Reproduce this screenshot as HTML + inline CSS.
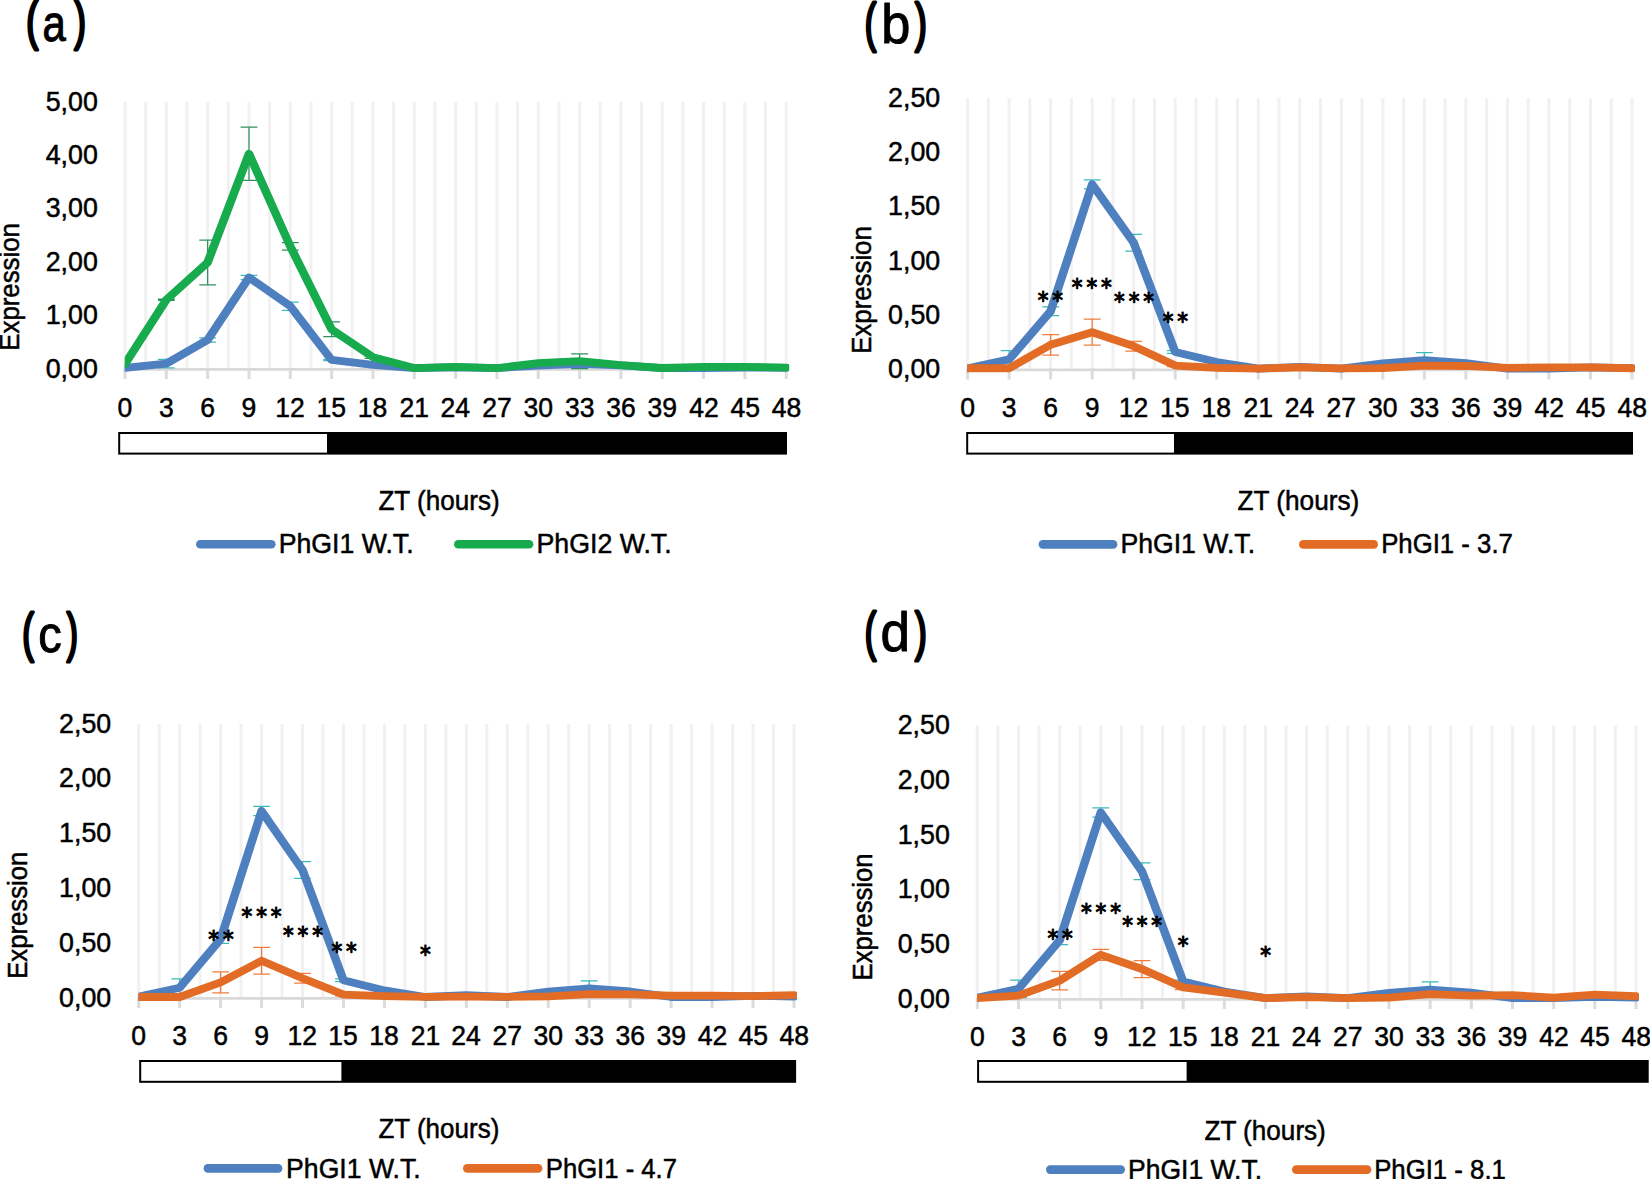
<!DOCTYPE html>
<html lang="en"><head><meta charset="utf-8"><title>PhGI expression</title>
<style>
html,body{margin:0;padding:0;background:#fff;}
body{width:1650px;height:1179px;overflow:hidden;}
svg{display:block;}
text{font-family:"Liberation Sans", sans-serif;fill:#000;}
.t{font-size:27.5px;stroke:#000;stroke-width:0.5px;}
.w{font-size:27px;stroke:#000;stroke-width:0.5px;}
.pl{font-size:54.5px;stroke:#000;stroke-linejoin:round;}
.st{font-family:"DejaVu Sans",sans-serif;font-size:23.3px;letter-spacing:4.21957px;stroke:#000;stroke-width:1.1px;stroke-linejoin:round;}
</style></head>
<body>
<svg width="1650" height="1179" viewBox="0 0 1650 1179">
<rect x="0" y="0" width="1650" height="1179" fill="#fff"/>
<g id="panel-a">
<clipPath id="clip-a"><rect x="124.7" y="92" width="664.4" height="296.1"/></clipPath>
<text class="pl"><tspan x="26.14" y="39.41" font-size="52.88" stroke-width="3.2" textLength="11.97" lengthAdjust="spacingAndGlyphs">(</tspan><tspan x="42.52" y="41.1" font-size="52.3" stroke-width="1.0" textLength="23.32" lengthAdjust="spacingAndGlyphs">a</tspan><tspan x="74.2" y="39.41" font-size="52.88" stroke-width="3.2" textLength="11.66" lengthAdjust="spacingAndGlyphs">)</tspan></text>
<path d="M125 102V369.1M145.66 102V369.1M166.32 102V369.1M186.99 102V369.1M207.65 102V369.1M228.31 102V369.1M248.98 102V369.1M269.64 102V369.1M290.3 102V369.1M310.96 102V369.1M331.62 102V369.1M352.29 102V369.1M372.95 102V369.1M393.61 102V369.1M414.28 102V369.1M434.94 102V369.1M455.6 102V369.1M476.26 102V369.1M496.93 102V369.1M517.59 102V369.1M538.25 102V369.1M558.91 102V369.1M579.58 102V369.1M600.24 102V369.1M620.9 102V369.1M641.56 102V369.1M662.23 102V369.1M682.89 102V369.1M703.55 102V369.1M724.21 102V369.1M744.88 102V369.1M765.54 102V369.1M786.2 102V369.1" stroke="#F1F1F1" stroke-width="3" fill="none"/>
<path d="M125 368.1V379M166.32 368.1V379M207.65 368.1V379M248.98 368.1V379M290.3 368.1V379M331.62 368.1V379M372.95 368.1V379M414.28 368.1V379M455.6 368.1V379M496.93 368.1V379M538.25 368.1V379M579.58 368.1V379M620.9 368.1V379M662.23 368.1V379M703.55 368.1V379M744.88 368.1V379M786.2 368.1V379" stroke="#DCDCDC" stroke-width="3" fill="none"/>
<path d="M123.7 369.45H787.5" stroke="#D9D9D9" stroke-width="2.7" fill="none"/>
<text class="t" transform="translate(45.71 377.6) scale(0.974 1)">0,00</text>
<text class="t" transform="translate(45.71 324.2) scale(0.974 1)">1,00</text>
<text class="t" transform="translate(45.71 270.8) scale(0.974 1)">2,00</text>
<text class="t" transform="translate(45.71 217.4) scale(0.974 1)">3,00</text>
<text class="t" transform="translate(45.71 164) scale(0.974 1)">4,00</text>
<text class="t" transform="translate(45.71 110.6) scale(0.974 1)">5,00</text>
<text class="w" transform="translate(19.2 350.73) rotate(-90) scale(0.956 1)">Expression</text>
<text class="t" transform="translate(117.6 416.5) scale(0.965 1)">0</text>
<text class="t" transform="translate(159.03 416.5) scale(0.965 1)">3</text>
<text class="t" transform="translate(200.19 416.5) scale(0.965 1)">6</text>
<text class="t" transform="translate(241.58 416.5) scale(0.965 1)">9</text>
<text class="t" transform="translate(275.24 416.5) scale(0.965 1)">12</text>
<text class="t" transform="translate(316.43 416.5) scale(0.965 1)">15</text>
<text class="t" transform="translate(357.79 416.5) scale(0.965 1)">18</text>
<text class="t" transform="translate(399.51 416.5) scale(0.965 1)">21</text>
<text class="t" transform="translate(440.57 416.5) scale(0.965 1)">24</text>
<text class="t" transform="translate(482.2 416.5) scale(0.965 1)">27</text>
<text class="t" transform="translate(523.52 416.5) scale(0.965 1)">30</text>
<text class="t" transform="translate(564.91 416.5) scale(0.965 1)">33</text>
<text class="t" transform="translate(606.24 416.5) scale(0.965 1)">36</text>
<text class="t" transform="translate(647.6 416.5) scale(0.965 1)">39</text>
<text class="t" transform="translate(689.19 416.5) scale(0.965 1)">42</text>
<text class="t" transform="translate(730.38 416.5) scale(0.965 1)">45</text>
<text class="t" transform="translate(771.74 416.5) scale(0.965 1)">48</text>
<path d="M166.32 359.32V367.83M157.92 359.32H174.72M157.92 367.83H174.72M207.65 337.76V342.02M199.25 337.76H216.05M199.25 342.02H216.05M248.98 275.25V279.72M240.58 275.25H257.38M240.58 279.72H257.38M290.3 302.11V310.3M281.9 302.11H298.7M281.9 310.3H298.7M331.62 359.32V360.6M323.23 359.32H340.02M323.23 360.6H340.02M372.95 364.35V365.42M364.55 364.35H381.35M364.55 365.42H381.35M538.25 365.1V365.96M529.85 365.1H546.65M529.85 365.96H546.65M579.58 360.2V367.65M571.18 360.2H587.98M571.18 367.65H587.98" stroke="#3BBABA" stroke-width="1.25" fill="none"/>
<path d="M166.32 299.21V300.48M157.92 299.21H174.72M157.92 300.48H174.72M207.65 240.05V284.76M199.25 240.05H216.05M199.25 284.76H216.05M248.98 127.22V180.44M240.58 127.22H257.38M240.58 180.44H257.38M290.3 242.63V250.08M281.9 242.63H298.7M281.9 250.08H298.7M331.62 321.92V336.61M323.23 321.92H340.02M323.23 336.61H340.02M372.95 356.12V358.25M364.55 356.12H381.35M364.55 358.25H381.35M579.58 353.79V368.59M571.18 353.79H587.98M571.18 368.59H587.98" stroke="#30905E" stroke-width="1.25" fill="none"/>
<g clip-path="url(#clip-a)"><polyline transform="scale(1.09 1)" points="114.68,367.94 152.59,363.58 190.5,339.89 228.42,277.48 266.33,306.21 304.24,359.96 342.16,364.89 380.07,368.1 417.98,367.24 455.89,368.1 493.81,365.53 531.72,363.93 569.63,365.42 607.55,368.1 645.46,368.1 683.37,367.51 721.28,367.89" stroke="#4E7FBE" stroke-width="7.8" fill="none" stroke-linejoin="round" stroke-linecap="round"/></g>
<g clip-path="url(#clip-a)"><polyline transform="scale(1.09 1)" points="114.68,364.03 152.59,299.85 190.5,262.41 228.42,153.83 266.33,246.36 304.24,329.27 342.16,357.18 380.07,368.1 417.98,366.97 455.89,368.1 493.81,363.23 531.72,361.19 569.63,365.1 607.55,367.99 645.46,366.97 683.37,366.97 721.28,367.56" stroke="#17AB4E" stroke-width="7.8" fill="none" stroke-linejoin="round" stroke-linecap="round"/></g>
<rect x="118.2" y="432" width="668.8" height="22.6" fill="#000"/>
<rect x="120.2" y="434" width="206.8" height="18.6" fill="#fff"/>
<text class="w" transform="translate(378.45 510.2) scale(0.966 1)">ZT (hours)</text>
<path d="M200.3 544.3H271.3" stroke="#4E7FBE" stroke-width="8.6" stroke-linecap="round" fill="none"/>
<text class="w" transform="translate(278.7 553.1) scale(0.9887 1)">PhGI1 W.T.</text>
<path d="M458.3 544.3H529.1" stroke="#17AB4E" stroke-width="8.6" stroke-linecap="round" fill="none"/>
<text class="w" transform="translate(536.49 553.1) scale(0.9902 1)">PhGI2 W.T.</text>
</g>
<g id="panel-b">
<clipPath id="clip-b"><rect x="967.3" y="88" width="667.6" height="300.6"/></clipPath>
<text class="pl"><tspan x="864.69" y="41.31" font-size="52.88" stroke-width="3.2" textLength="11.46" lengthAdjust="spacingAndGlyphs">(</tspan><tspan x="881.17" y="43" font-size="55" stroke-width="1.0" textLength="29.1" lengthAdjust="spacingAndGlyphs">b</tspan><tspan x="914.9" y="41.31" font-size="52.88" stroke-width="3.2" textLength="11.76" lengthAdjust="spacingAndGlyphs">)</tspan></text>
<path d="M967.6 98V369.6M988.36 98V369.6M1009.12 98V369.6M1029.89 98V369.6M1050.65 98V369.6M1071.41 98V369.6M1092.17 98V369.6M1112.94 98V369.6M1133.7 98V369.6M1154.46 98V369.6M1175.22 98V369.6M1195.99 98V369.6M1216.75 98V369.6M1237.51 98V369.6M1258.28 98V369.6M1279.04 98V369.6M1299.8 98V369.6M1320.56 98V369.6M1341.33 98V369.6M1362.09 98V369.6M1382.85 98V369.6M1403.61 98V369.6M1424.38 98V369.6M1445.14 98V369.6M1465.9 98V369.6M1486.66 98V369.6M1507.43 98V369.6M1528.19 98V369.6M1548.95 98V369.6M1569.71 98V369.6M1590.47 98V369.6M1611.24 98V369.6M1632 98V369.6" stroke="#F1F1F1" stroke-width="3" fill="none"/>
<path d="M967.6 368.6V379.5M1009.12 368.6V379.5M1050.65 368.6V379.5M1092.17 368.6V379.5M1133.7 368.6V379.5M1175.22 368.6V379.5M1216.75 368.6V379.5M1258.28 368.6V379.5M1299.8 368.6V379.5M1341.33 368.6V379.5M1382.85 368.6V379.5M1424.38 368.6V379.5M1465.9 368.6V379.5M1507.43 368.6V379.5M1548.95 368.6V379.5M1590.47 368.6V379.5M1632 368.6V379.5" stroke="#DCDCDC" stroke-width="3" fill="none"/>
<path d="M966.3 369.95H1633.3" stroke="#D9D9D9" stroke-width="2.7" fill="none"/>
<text class="t" transform="translate(888.11 378.1) scale(0.974 1)">0,00</text>
<text class="t" transform="translate(888.11 323.8) scale(0.974 1)">0,50</text>
<text class="t" transform="translate(888.11 269.5) scale(0.974 1)">1,00</text>
<text class="t" transform="translate(888.11 215.2) scale(0.974 1)">1,50</text>
<text class="t" transform="translate(888.11 160.9) scale(0.974 1)">2,00</text>
<text class="t" transform="translate(888.11 106.6) scale(0.974 1)">2,50</text>
<text class="w" transform="translate(871.2 353.83) rotate(-90) scale(0.956 1)">Expression</text>
<text class="t" transform="translate(960.2 416.7) scale(0.965 1)">0</text>
<text class="t" transform="translate(1001.83 416.7) scale(0.965 1)">3</text>
<text class="t" transform="translate(1043.19 416.7) scale(0.965 1)">6</text>
<text class="t" transform="translate(1084.78 416.7) scale(0.965 1)">9</text>
<text class="t" transform="translate(1118.64 416.7) scale(0.965 1)">12</text>
<text class="t" transform="translate(1160.03 416.7) scale(0.965 1)">15</text>
<text class="t" transform="translate(1201.59 416.7) scale(0.965 1)">18</text>
<text class="t" transform="translate(1243.51 416.7) scale(0.965 1)">21</text>
<text class="t" transform="translate(1284.77 416.7) scale(0.965 1)">24</text>
<text class="t" transform="translate(1326.6 416.7) scale(0.965 1)">27</text>
<text class="t" transform="translate(1368.12 416.7) scale(0.965 1)">30</text>
<text class="t" transform="translate(1409.71 416.7) scale(0.965 1)">33</text>
<text class="t" transform="translate(1451.24 416.7) scale(0.965 1)">36</text>
<text class="t" transform="translate(1492.8 416.7) scale(0.965 1)">39</text>
<text class="t" transform="translate(1534.59 416.7) scale(0.965 1)">42</text>
<text class="t" transform="translate(1575.98 416.7) scale(0.965 1)">45</text>
<text class="t" transform="translate(1617.54 416.7) scale(0.965 1)">48</text>
<path d="M1009.12 350.74V368.06M1000.73 350.74H1017.52M1000.73 368.06H1017.52M1050.65 306.9V315.56M1042.25 306.9H1059.05M1042.25 315.56H1059.05M1092.17 179.75V188.85M1083.77 179.75H1100.58M1083.77 188.85H1100.58M1133.7 234.38V251.05M1125.3 234.38H1142.1M1125.3 251.05H1142.1M1175.22 350.74V353.34M1166.82 350.74H1183.62M1166.82 353.34H1183.62M1216.75 360.98V363.14M1208.35 360.98H1225.15M1208.35 363.14H1225.15M1382.85 362.51V364.24M1374.45 362.51H1391.25M1374.45 364.24H1391.25M1424.38 352.54V367.69M1415.97 352.54H1432.78M1415.97 367.69H1432.78" stroke="#3BBABA" stroke-width="1.25" fill="none"/>
<path d="M1050.65 334.5V355.07M1042.25 334.5H1059.05M1042.25 355.07H1059.05M1092.17 319.24V345.22M1083.77 319.24H1100.58M1083.77 345.22H1100.58M1133.7 341.32V351.07M1125.3 341.32H1142.1M1125.3 351.07H1142.1M1175.22 364.47V366.63M1166.82 364.47H1183.62M1166.82 366.63H1183.62M1424.38 364.47V366.63M1415.97 364.47H1432.78M1415.97 366.63H1432.78" stroke="#F07D3D" stroke-width="1.25" fill="none"/>
<g clip-path="url(#clip-b)"><polyline transform="scale(1.09 1)" points="887.71,368.26 925.8,359.4 963.9,311.23 1002,184.3 1040.09,242.72 1078.19,352.04 1116.28,362.06 1154.38,368.6 1192.48,366.86 1230.57,368.6 1268.67,363.37 1306.77,360.11 1344.86,363.16 1382.96,368.6 1421.06,368.6 1459.15,367.41 1497.25,368.17" stroke="#4E7FBE" stroke-width="7.8" fill="none" stroke-linejoin="round" stroke-linecap="round"/></g>
<g clip-path="url(#clip-b)"><polyline transform="scale(1.09 1)" points="887.71,368.26 925.8,368.26 963.9,344.79 1002,332.23 1040.09,346.19 1078.19,365.55 1116.28,367.94 1154.38,368.59 1192.48,367.4 1230.57,368.37 1268.67,368.05 1306.77,365.55 1344.86,365.98 1382.96,367.94 1421.06,367.29 1459.15,367.29 1497.25,368.26" stroke="#E26C25" stroke-width="7.8" fill="none" stroke-linejoin="round" stroke-linecap="round"/></g>
<text class="st" transform="translate(1037.76 308.3) scale(0.92 1)">**</text>
<text class="st" transform="translate(1071.86 294.9) scale(0.92 1)">***</text>
<text class="st" transform="translate(1114.06 309.3) scale(0.92 1)">***</text>
<text class="st" transform="translate(1162.76 328.9) scale(0.92 1)">**</text>
<rect x="966.2" y="432" width="666.8" height="22.6" fill="#000"/>
<rect x="968.2" y="434" width="205.8" height="18.6" fill="#fff"/>
<text class="w" transform="translate(1237.45 510) scale(0.9709 1)">ZT (hours)</text>
<path d="M1042.9 544.4H1113.1" stroke="#4E7FBE" stroke-width="8.6" stroke-linecap="round" fill="none"/>
<text class="w" transform="translate(1120.5 552.8) scale(0.9856 1)">PhGI1 W.T.</text>
<path d="M1303.3 544.4H1373.7" stroke="#E26C25" stroke-width="8.6" stroke-linecap="round" fill="none"/>
<text class="w" transform="translate(1381.17 552.8) scale(0.9549 1)">PhGI1 - 3.7</text>
</g>
<g id="panel-c">
<clipPath id="clip-c"><rect x="138.4" y="714" width="658.5" height="303"/></clipPath>
<text class="pl"><tspan x="22.27" y="651.21" font-size="52.88" stroke-width="3.2" textLength="11.66" lengthAdjust="spacingAndGlyphs">(</tspan><tspan x="38.36" y="652.4" font-size="51.8" stroke-width="1.0" textLength="23.48" lengthAdjust="spacingAndGlyphs">c</tspan><tspan x="66.66" y="651.21" font-size="52.88" stroke-width="3.2" textLength="11.15" lengthAdjust="spacingAndGlyphs">)</tspan></text>
<path d="M138.7 724V998M159.18 724V998M179.66 724V998M200.13 724V998M220.61 724V998M241.09 724V998M261.57 724V998M282.05 724V998M302.52 724V998M323 724V998M343.48 724V998M363.96 724V998M384.44 724V998M404.92 724V998M425.39 724V998M445.87 724V998M466.35 724V998M486.83 724V998M507.31 724V998M527.78 724V998M548.26 724V998M568.74 724V998M589.22 724V998M609.7 724V998M630.17 724V998M650.65 724V998M671.13 724V998M691.61 724V998M712.09 724V998M732.57 724V998M753.04 724V998M773.52 724V998M794 724V998" stroke="#F1F1F1" stroke-width="3" fill="none"/>
<path d="M138.7 997V1007.9M179.66 997V1007.9M220.61 997V1007.9M261.57 997V1007.9M302.52 997V1007.9M343.48 997V1007.9M384.44 997V1007.9M425.39 997V1007.9M466.35 997V1007.9M507.31 997V1007.9M548.26 997V1007.9M589.22 997V1007.9M630.17 997V1007.9M671.13 997V1007.9M712.09 997V1007.9M753.04 997V1007.9M794 997V1007.9" stroke="#DCDCDC" stroke-width="3" fill="none"/>
<path d="M137.4 998.35H795.3" stroke="#D9D9D9" stroke-width="2.7" fill="none"/>
<text class="t" transform="translate(59.11 1006.5) scale(0.974 1)">0,00</text>
<text class="t" transform="translate(59.11 951.72) scale(0.974 1)">0,50</text>
<text class="t" transform="translate(59.11 896.94) scale(0.974 1)">1,00</text>
<text class="t" transform="translate(59.11 842.16) scale(0.974 1)">1,50</text>
<text class="t" transform="translate(59.11 787.38) scale(0.974 1)">2,00</text>
<text class="t" transform="translate(59.11 732.6) scale(0.974 1)">2,50</text>
<text class="w" transform="translate(27.4 978.82) rotate(-90) scale(0.9522 1)">Expression</text>
<text class="t" transform="translate(131.3 1045.1) scale(0.965 1)">0</text>
<text class="t" transform="translate(172.36 1045.1) scale(0.965 1)">3</text>
<text class="t" transform="translate(213.15 1045.1) scale(0.965 1)">6</text>
<text class="t" transform="translate(254.17 1045.1) scale(0.965 1)">9</text>
<text class="t" transform="translate(287.46 1045.1) scale(0.965 1)">12</text>
<text class="t" transform="translate(328.29 1045.1) scale(0.965 1)">15</text>
<text class="t" transform="translate(369.28 1045.1) scale(0.965 1)">18</text>
<text class="t" transform="translate(410.63 1045.1) scale(0.965 1)">21</text>
<text class="t" transform="translate(451.32 1045.1) scale(0.965 1)">24</text>
<text class="t" transform="translate(492.58 1045.1) scale(0.965 1)">27</text>
<text class="t" transform="translate(533.53 1045.1) scale(0.965 1)">30</text>
<text class="t" transform="translate(574.56 1045.1) scale(0.965 1)">33</text>
<text class="t" transform="translate(615.51 1045.1) scale(0.965 1)">36</text>
<text class="t" transform="translate(656.5 1045.1) scale(0.965 1)">39</text>
<text class="t" transform="translate(697.72 1045.1) scale(0.965 1)">42</text>
<text class="t" transform="translate(738.55 1045.1) scale(0.965 1)">45</text>
<text class="t" transform="translate(779.54 1045.1) scale(0.965 1)">48</text>
<path d="M179.66 978.98V996.45M171.26 978.98H188.06M171.26 996.45H188.06M220.61 934.76V943.49M212.21 934.76H229.01M212.21 943.49H229.01M261.57 806.48V815.65M253.17 806.48H269.97M253.17 815.65H269.97M302.52 861.59V878.41M294.12 861.59H310.92M294.12 878.41H310.92M343.48 978.98V981.6M335.08 978.98H351.88M335.08 981.6H351.88M384.44 989.31V991.5M376.04 989.31H392.84M376.04 991.5H392.84M548.26 990.85V992.6M539.86 990.85H556.66M539.86 992.6H556.66M589.22 980.79V996.08M580.82 980.79H597.62M580.82 996.08H597.62" stroke="#3BBABA" stroke-width="1.25" fill="none"/>
<path d="M220.61 971.99V992.96M212.21 971.99H229.01M212.21 992.96H229.01M261.57 947.48V974.12M253.17 947.48H269.97M253.17 974.12H269.97M302.52 973.41V983.02M294.12 973.41H310.92M294.12 983.02H310.92M343.48 993.59V995.78M335.08 993.59H351.88M335.08 995.78H351.88M589.22 992.94V995.12M580.82 992.94H597.62M580.82 995.12H597.62" stroke="#F07D3D" stroke-width="1.25" fill="none"/>
<g clip-path="url(#clip-c)"><polyline transform="scale(1.09 1)" points="127.25,996.66 164.82,987.72 202.4,939.12 239.97,811.07 277.55,870 315.12,980.29 352.69,990.4 390.27,997 427.84,995.24 465.42,997 502.99,991.73 540.57,988.44 578.14,991.51 615.72,997 653.29,997 690.87,995.8 728.44,996.56" stroke="#4E7FBE" stroke-width="7.8" fill="none" stroke-linejoin="round" stroke-linecap="round"/></g>
<g clip-path="url(#clip-c)"><polyline transform="scale(1.09 1)" points="127.25,996.99 164.82,996.99 202.4,982.48 239.97,960.8 277.55,978.22 315.12,994.68 352.69,996.12 390.27,996.88 427.84,996.55 465.42,996.88 502.99,996.44 540.57,994.03 578.14,994.36 615.72,995.68 653.29,995.68 690.87,996.12 728.44,995.13" stroke="#E26C25" stroke-width="7.8" fill="none" stroke-linejoin="round" stroke-linecap="round"/></g>
<text class="st" transform="translate(208.36 946.8) scale(0.92 1)">**</text>
<text class="st" transform="translate(241.56 923.7) scale(0.92 1)">***</text>
<text class="st" transform="translate(282.96 942.5) scale(0.92 1)">***</text>
<text class="st" transform="translate(331.46 959.2) scale(0.92 1)">**</text>
<text class="st" transform="translate(420.06 961.9) scale(0.92 1)">*</text>
<rect x="139.2" y="1060" width="656.9" height="22.8" fill="#000"/>
<rect x="141.2" y="1062" width="200.2" height="18.8" fill="#fff"/>
<text class="w" transform="translate(378.46 1138.2) scale(0.9627 1)">ZT (hours)</text>
<path d="M207.9 1168.4H278.1" stroke="#4E7FBE" stroke-width="8.6" stroke-linecap="round" fill="none"/>
<text class="w" transform="translate(286.1 1177.6) scale(0.9856 1)">PhGI1 W.T.</text>
<path d="M467.3 1168.4H538.1" stroke="#E26C25" stroke-width="8.6" stroke-linecap="round" fill="none"/>
<text class="w" transform="translate(545.78 1177.6) scale(0.9505 1)">PhGI1 - 4.7</text>
</g>
<g id="panel-d">
<clipPath id="clip-d"><rect x="977" y="715.6" width="661.9" height="302.5"/></clipPath>
<text class="pl"><tspan x="864.69" y="649.61" font-size="52.88" stroke-width="3.2" textLength="11.46" lengthAdjust="spacingAndGlyphs">(</tspan><tspan x="880.43" y="651" font-size="55" stroke-width="1.0" textLength="29.46" lengthAdjust="spacingAndGlyphs">d</tspan><tspan x="914.9" y="649.61" font-size="52.88" stroke-width="3.2" textLength="11.76" lengthAdjust="spacingAndGlyphs">)</tspan></text>
<path d="M977.3 725.6V999.1M997.88 725.6V999.1M1018.47 725.6V999.1M1039.05 725.6V999.1M1059.64 725.6V999.1M1080.22 725.6V999.1M1100.81 725.6V999.1M1121.39 725.6V999.1M1141.97 725.6V999.1M1162.56 725.6V999.1M1183.14 725.6V999.1M1203.73 725.6V999.1M1224.31 725.6V999.1M1244.9 725.6V999.1M1265.48 725.6V999.1M1286.07 725.6V999.1M1306.65 725.6V999.1M1327.23 725.6V999.1M1347.82 725.6V999.1M1368.4 725.6V999.1M1388.99 725.6V999.1M1409.57 725.6V999.1M1430.16 725.6V999.1M1450.74 725.6V999.1M1471.33 725.6V999.1M1491.91 725.6V999.1M1512.49 725.6V999.1M1533.08 725.6V999.1M1553.66 725.6V999.1M1574.25 725.6V999.1M1594.83 725.6V999.1M1615.42 725.6V999.1M1636 725.6V999.1" stroke="#F1F1F1" stroke-width="3" fill="none"/>
<path d="M977.3 998.1V1009M1018.47 998.1V1009M1059.64 998.1V1009M1100.81 998.1V1009M1141.97 998.1V1009M1183.14 998.1V1009M1224.31 998.1V1009M1265.48 998.1V1009M1306.65 998.1V1009M1347.82 998.1V1009M1388.99 998.1V1009M1430.16 998.1V1009M1471.33 998.1V1009M1512.49 998.1V1009M1553.66 998.1V1009M1594.83 998.1V1009M1636 998.1V1009" stroke="#DCDCDC" stroke-width="3" fill="none"/>
<path d="M976 999.45H1637.3" stroke="#D9D9D9" stroke-width="2.7" fill="none"/>
<text class="t" transform="translate(897.71 1007.6) scale(0.974 1)">0,00</text>
<text class="t" transform="translate(897.71 952.92) scale(0.974 1)">0,50</text>
<text class="t" transform="translate(897.71 898.24) scale(0.974 1)">1,00</text>
<text class="t" transform="translate(897.71 843.56) scale(0.974 1)">1,50</text>
<text class="t" transform="translate(897.71 788.88) scale(0.974 1)">2,00</text>
<text class="t" transform="translate(897.71 734.2) scale(0.974 1)">2,50</text>
<text class="w" transform="translate(872 980.52) rotate(-90) scale(0.9522 1)">Expression</text>
<text class="t" transform="translate(969.9 1046.3) scale(0.965 1)">0</text>
<text class="t" transform="translate(1011.17 1046.3) scale(0.965 1)">3</text>
<text class="t" transform="translate(1052.17 1046.3) scale(0.965 1)">6</text>
<text class="t" transform="translate(1093.41 1046.3) scale(0.965 1)">9</text>
<text class="t" transform="translate(1126.91 1046.3) scale(0.965 1)">12</text>
<text class="t" transform="translate(1167.95 1046.3) scale(0.965 1)">15</text>
<text class="t" transform="translate(1209.15 1046.3) scale(0.965 1)">18</text>
<text class="t" transform="translate(1250.72 1046.3) scale(0.965 1)">21</text>
<text class="t" transform="translate(1291.62 1046.3) scale(0.965 1)">24</text>
<text class="t" transform="translate(1333.09 1046.3) scale(0.965 1)">27</text>
<text class="t" transform="translate(1374.26 1046.3) scale(0.965 1)">30</text>
<text class="t" transform="translate(1415.49 1046.3) scale(0.965 1)">33</text>
<text class="t" transform="translate(1456.66 1046.3) scale(0.965 1)">36</text>
<text class="t" transform="translate(1497.86 1046.3) scale(0.965 1)">39</text>
<text class="t" transform="translate(1539.3 1046.3) scale(0.965 1)">42</text>
<text class="t" transform="translate(1580.34 1046.3) scale(0.965 1)">45</text>
<text class="t" transform="translate(1621.54 1046.3) scale(0.965 1)">48</text>
<path d="M1018.47 980.12V997.56M1010.07 980.12H1026.87M1010.07 997.56H1026.87M1059.64 935.97V944.69M1051.24 935.97H1068.04M1051.24 944.69H1068.04M1100.81 807.93V817.08M1092.41 807.93H1109.21M1092.41 817.08H1109.21M1141.97 862.94V879.73M1133.57 862.94H1150.38M1133.57 879.73H1150.38M1183.14 980.12V982.73M1174.74 980.12H1191.54M1174.74 982.73H1191.54M1224.31 990.43V992.61M1215.91 990.43H1232.71M1215.91 992.61H1232.71M1388.99 991.96V993.71M1380.59 991.96H1397.39M1380.59 993.71H1397.39M1430.16 981.92V997.18M1421.76 981.92H1438.56M1421.76 997.18H1438.56" stroke="#3BBABA" stroke-width="1.25" fill="none"/>
<path d="M1018.47 994.5V996.68M1010.07 994.5H1026.87M1010.07 996.68H1026.87M1059.64 971.39V989.93M1051.24 971.39H1068.04M1051.24 989.93H1068.04M1100.81 949.38V960.28M1092.41 949.38H1109.21M1092.41 960.28H1109.21M1141.97 960.5V977.5M1133.57 960.5H1150.38M1133.57 977.5H1150.38M1183.14 985.29V989.65M1174.74 985.29H1191.54M1174.74 989.65H1191.54M1224.31 991.42V993.6M1215.91 991.42H1232.71M1215.91 993.6H1232.71M1430.16 991.87V996.23M1421.76 991.87H1438.56M1421.76 996.23H1438.56" stroke="#F07D3D" stroke-width="1.25" fill="none"/>
<g clip-path="url(#clip-d)"><polyline transform="scale(1.09 1)" points="896.61,997.76 934.37,988.84 972.14,940.33 1009.91,812.51 1047.68,871.33 1085.45,981.42 1123.22,991.52 1160.99,998.1 1198.76,996.35 1236.53,998.1 1274.3,992.84 1312.07,989.55 1349.84,992.62 1387.61,998.1 1425.38,998.1 1463.15,996.9 1500.92,997.66" stroke="#4E7FBE" stroke-width="7.8" fill="none" stroke-linejoin="round" stroke-linecap="round"/></g>
<g clip-path="url(#clip-d)"><polyline transform="scale(1.09 1)" points="896.61,998.1 934.37,995.59 972.14,980.66 1009.91,954.83 1047.68,969 1085.45,987.47 1123.22,992.51 1160.99,998.1 1198.76,997.22 1236.53,998.1 1274.3,997.54 1312.07,994.05 1349.84,995.68 1387.61,995.14 1425.38,997.65 1463.15,994.7 1500.92,996.24" stroke="#E26C25" stroke-width="7.8" fill="none" stroke-linejoin="round" stroke-linecap="round"/></g>
<text class="st" transform="translate(1047.46 945.9) scale(0.92 1)">**</text>
<text class="st" transform="translate(1080.96 920.1) scale(0.92 1)">***</text>
<text class="st" transform="translate(1122.16 933) scale(0.92 1)">***</text>
<text class="st" transform="translate(1177.76 952.7) scale(0.92 1)">*</text>
<text class="st" transform="translate(1260.36 963.3) scale(0.92 1)">*</text>
<rect x="977.1" y="1060" width="671.6" height="22.8" fill="#000"/>
<rect x="979.1" y="1062" width="207.5" height="18.8" fill="#fff"/>
<text class="w" transform="translate(1204.45 1139.8) scale(0.9676 1)">ZT (hours)</text>
<path d="M1050.3 1169.6H1120.7" stroke="#4E7FBE" stroke-width="8.6" stroke-linecap="round" fill="none"/>
<text class="w" transform="translate(1128.11 1179) scale(0.9811 1)">PhGI1 W.T.</text>
<path d="M1296.3 1169.6H1367.1" stroke="#E26C25" stroke-width="8.6" stroke-linecap="round" fill="none"/>
<text class="w" transform="translate(1374.17 1179) scale(0.9545 1)">PhGI1 - 8.1</text>
</g>
</svg>
</body></html>
